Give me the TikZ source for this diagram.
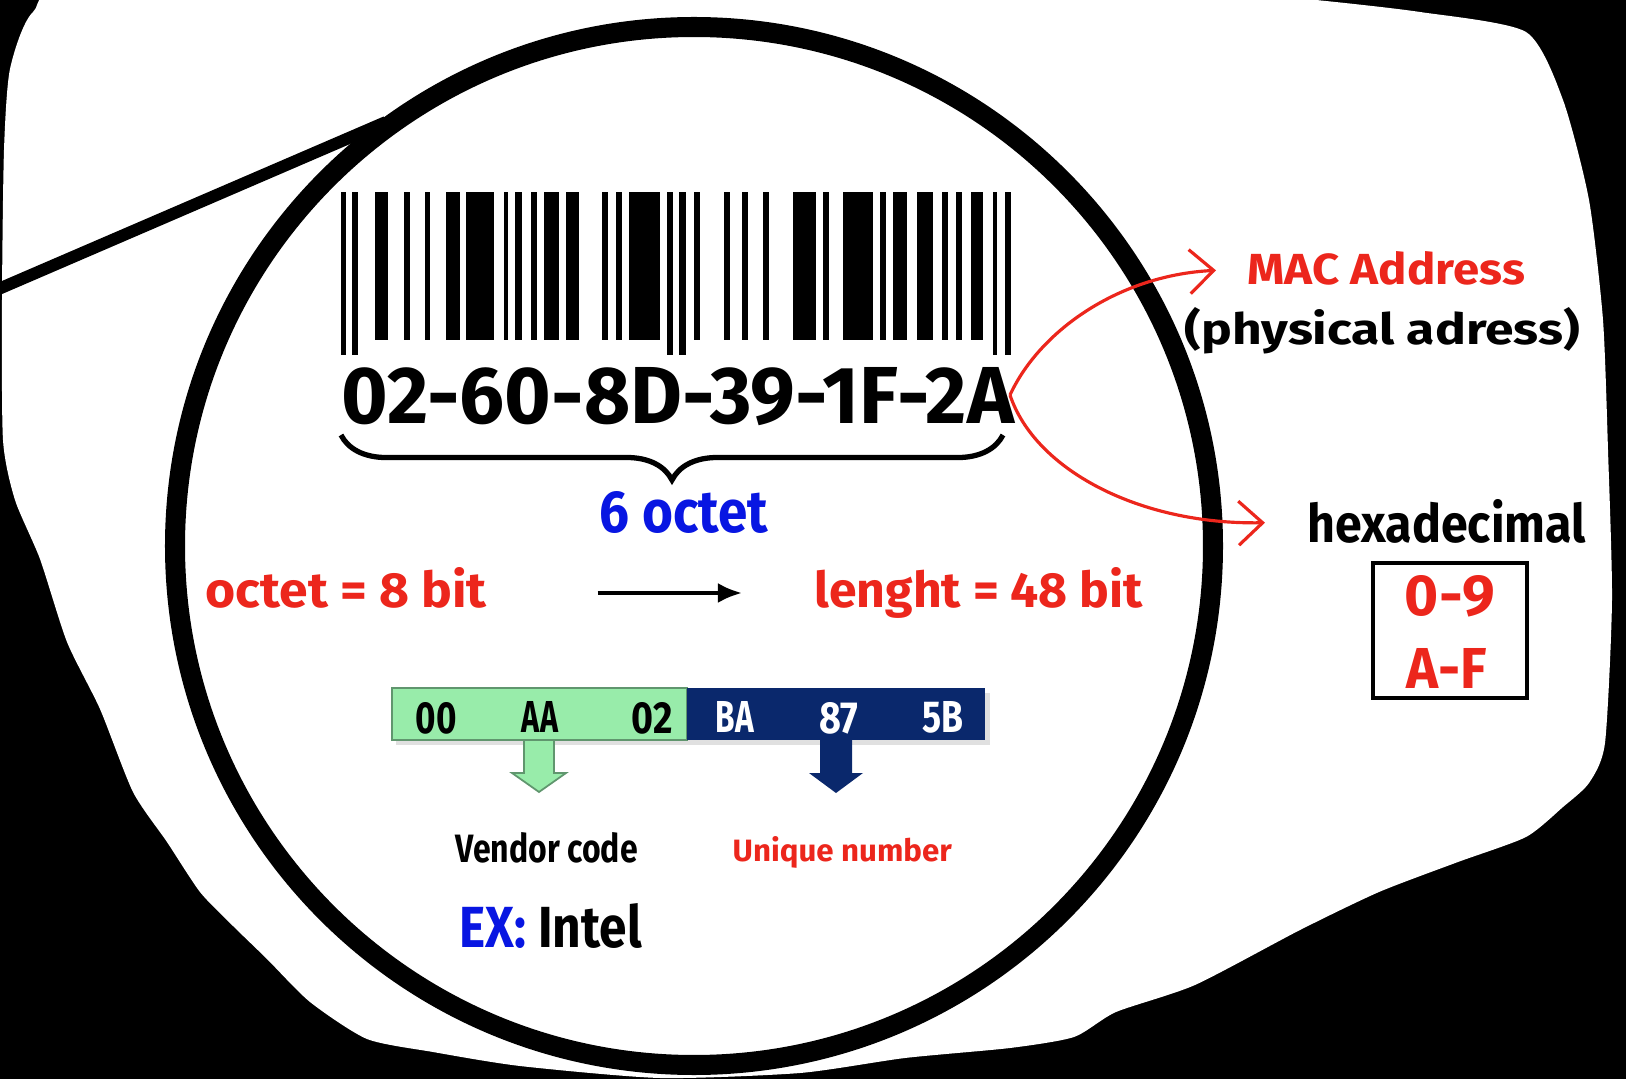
\documentclass[tikz,border=0pt]{standalone}
\usepackage{fontspec}
\setmainfont{Fira Sans}
\usetikzlibrary{arrows.meta,decorations.pathreplacing}
\definecolor{macred}{RGB}{236,38,28}
\definecolor{octblue}{RGB}{8,22,226}
\definecolor{vendgreen}{RGB}{152,236,170}
\definecolor{vendedge}{RGB}{96,150,110}
\definecolor{uniqnavy}{RGB}{10,40,108}
\newcommand{\fitbox}[3]{\resizebox{#1cm}{#2cm}{\bfseries #3}}

\begin{document}
\begin{tikzpicture}[x=0.01cm,y=-0.01cm,
        lbl/.style={anchor=base west,inner sep=0pt},
        redarr/.style={macred,line width=0.9pt,-{Straight Barb[length=0.24cm,width=0.44cm]}}]
                \useasboundingbox (0,0) rectangle (1626,1079);
                \fill[black] (0,0) rectangle (1626,1079);
                \fill[white] plot[smooth cycle,tension=0.4] coordinates {(100,-15) (700,-15) (1200,-10) (1316,0) (1420,12) (1526,32) (1563,100) (1589,200) (1603,320) (1608,450) (1612,600) (1605,743) (1589,783) (1563,807) (1526,837) (1458,862) (1379,892) (1300,930) (1195,985) (1116,1012) (1074,1037) (1010,1048) (905,1058) (800,1073) (660,1078) (520,1066) (433,1052) (367,1039) (310,1002) (267,959) (233,926) (200,892) (167,842) (133,792) (100,709) (67,642) (40,559) (15,500) (3,440) (2,300) (4,150) (10,69) (33,12)};

                \coordinate (grip) at (-20,297);
                \coordinate (rim) at (386,122);
                \draw[line width=0.12cm] (grip) -- (rim);
                \draw[line width=0.2cm] (694,546) circle[radius=519];

                \foreach \a/\b/\c in {341/346/355,352/358/355,375/388/340,404/410/340,425/430/340,446/460/340,466/494/340,504/508/340,515/522/340,531/537/340,544/559/340,566/579/340,602/608/340,616/622/340,629/660/340,667/673/355,679/686/355,694/700/340,724/730/340,742/748/340,763/769/340,793/816/340,823/829/340,843/873/340,880/886/340,893/907/340,917/933/340,942/948/340,956/962/340,971/983/340,993/997/355,1005/1011/355} {
                    \fill (\a,192) rectangle (\b,\c);
                }
                \node[lbl] (macnum) at (341,423) {\fitbox{6.72}{0.56}{02-60-8D-39-1F-2A}};
                \draw[line width=1.5pt,decorate,decoration={brace,amplitude=0.45cm}] (1003,435) -- (341,435);
                \node[lbl,text=octblue] (sixoct) at (599,533) {\fitbox{1.68}{0.41}{6 octet}};

                \node[lbl,text=macred] (octbit) at (205,607) {\fitbox{2.81}{0.40}{octet = 8 bit}};
                \node[lbl,text=macred] (lenght) at (814,607) {\fitbox{3.28}{0.40}{lenght = 48 bit}};
                \coordinate (midrow) at (0,593);
                \draw[line width=1.1pt,-{Latex[length=0.24cm,width=0.2cm]},shorten <=1.1cm,shorten >=0.72cm] (octbit.east |- midrow) -- (lenght.west |- midrow);

                \fill[black!12] (396,693) rectangle (990,745);
                \filldraw[fill=vendgreen,draw=vendedge,line width=0.5pt] (392,688) rectangle (687,740);
                \fill[uniqnavy] (687,688) rectangle (985,740);
                \foreach \x/\w/\t in {436/0.41/00,540/0.36/AA,652/0.41/02} {
                    \node[anchor=base,inner sep=0pt] (b\t) at (\x,733) {\fitbox{\w}{0.31}{\t}};
                }
                \foreach \x/\w/\t in {735/0.38/BA,839/0.39/87,943/0.41/5B} {
                    \node[anchor=base,inner sep=0pt,text=white] (b\t) at (\x,733) {\fitbox{\w}{0.31}{\t}};
                }
                \filldraw[fill=vendgreen,draw=vendedge,line width=0.5pt] (524,740) -- (554,740) -- (554,773) -- (566,773) -- (539,792) -- (512,773) -- (524,773) -- cycle;
                \fill[uniqnavy] (820,740) -- (852,740) -- (852,773) -- (863,773) -- (836,793) -- (809,773) -- (820,773) -- cycle;

                \node[lbl] (vendor) at (455,863) {\fitbox{1.82}{0.30}{Vendor code}};
                \node[lbl,text=macred] (unique) at (732,862) {\fitbox{2.19}{0.25}{Unique number}};
                \node[lbl] (intel) at (459,947) {\fitbox{1.82}{0.44}{\textcolor{octblue}{EX:} Intel}};

                \node[lbl,text=macred] (macaddr) at (1247,285) {\fitbox{2.77}{0.33}{MAC Address}};
                \node[lbl] (physaddr) at (1184,345) {\fitbox{3.95}{0.37}{(physical adress)}};
                \node[lbl] (hexa) at (1307,543) {\fitbox{2.78}{0.43}{hexadecimal}};
                \node[draw,line width=1.1pt,minimum width=1.54cm,minimum height=1.35cm,inner sep=0pt] (hexbox) at (1450,630.5) {};
                \node[anchor=base,inner sep=0pt,text=macred] (digits) at (1450,615) {\fitbox{0.90}{0.40}{0-9}};
                \node[anchor=base,inner sep=0pt,text=macred] (letters) at (1447,688) {\fitbox{0.80}{0.40}{A-F}};

                \coordinate (fork) at (1010,395);
                \draw[redarr,shorten >=0.31cm] (fork) .. controls (1040,330) and (1120,275) .. (macaddr.west);
                \draw[redarr,shorten >=0.42cm] (fork) .. controls (1035,470) and (1140,525) .. (hexa.west);
\end{tikzpicture}
\end{document}
